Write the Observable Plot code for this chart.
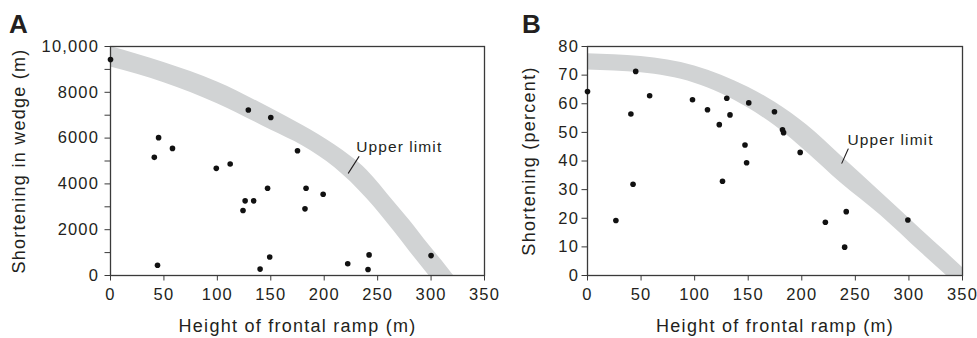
<!DOCTYPE html>
<html><head><meta charset="utf-8">
<script src="https://cdn.jsdelivr.net/npm/d3@7"></script>
<script src="https://cdn.jsdelivr.net/npm/@observablehq/plot@0.6"></script>
<style>
body{margin:0;background:#fff;}
#wrap{position:relative;width:977px;height:338px;overflow:hidden;font-family:"Liberation Sans",Arial,sans-serif;color:#231f20;}
.panel{position:absolute;top:0;}
.panel svg{overflow:visible;}
.panel svg text{letter-spacing:0.07em;}
.letter{position:absolute;font-weight:bold;font-size:26px;line-height:1;letter-spacing:0;}
</style></head><body>
<div id="wrap">
<div id="a" class="panel" style="left:0"></div>
<div id="b" class="panel" style="left:490px"></div>
<div class="letter" style="left:9px;top:11px">A</div>
<div class="letter" style="left:522px;top:11px">B</div>
</div>
<script>
// ---- shared x axis ----
const xTicks = [0, 50, 100, 150, 200, 250, 300, 350];
const xLabel = "Height of frontal ramp (m)";

// ---- Panel A: shortening in wedge (m) ----
const heightA = [0, 129, 150, 45, 41, 58, 175, 99, 112, 147, 183, 199, 126, 134, 124, 182, 44, 140, 149, 222, 242, 241, 300];
const shortA  = [9430, 7230, 6900, 6020, 5160, 5550, 5450, 4680, 4870, 3810, 3810, 3550, 3260, 3260, 2840, 2910, 450, 280, 810, 510, 900, 260, 870];
const bandXA     = [0, 50, 100, 150, 180, 210, 240, 265, 280, 298, 310, 321, 335];
const bandUpperA = [10000, 9300, 8450, 7300, 6550, 5700, 4600, 3230, 2400, 1330, 650, 0, -800];
const bandLowerA = [9100, 8420, 7500, 6350, 5650, 4700, 3350, 1950, 1050, 0, -700, -1350, -2150];
const yTicksA = [0, 1000, 2000, 3000, 4000, 5000, 6000, 7000, 8000, 9000, 10000];
const yTickLabelsA = ["0", "", "2000", "", "4000", "", "6000", "", "8000", "", "10,000"];
const yLabelA = "Shortening in wedge (m)";
const leaderXA = [222.6, 232.5];
const leaderYA = [4470, 5190];
const noteA = {x: 230, y: 5626, text: "Upper limit"};

// ---- Panel B: shortening (percent) ----
const heightB = [0, 45, 40.5, 58, 98, 112, 130, 133, 123, 150.5, 174.5, 182, 183, 198.5, 147, 148.5, 42.5, 26.5, 126, 222, 241.5, 240, 299];
const shortB  = [64.3, 71.3, 56.4, 62.8, 61.4, 57.9, 61.9, 56.1, 52.7, 60.3, 57.2, 50.9, 49.9, 43.0, 45.6, 39.4, 31.9, 19.2, 32.9, 18.6, 22.3, 9.9, 19.4];
const bandXB     = [0, 50, 100, 125, 150, 175, 205, 236, 274, 311, 335, 350, 370];
const bandUpperB = [77.5, 76.5, 73.2, 70, 65.8, 60.5, 52.5, 42, 29, 16.2, 8, 2.8, -4];
const bandLowerB = [71.8, 70.8, 67.2, 63.5, 58.5, 52.3, 43, 32.5, 20.9, 8.1, 0, -5, -12];
const yTicksB = [0, 10, 20, 30, 40, 50, 60, 70, 80];
const yTickLabelsB = ["0", "10", "20", "30", "40", "50", "60", "70", "80"];
const yLabelB = "Shortening (percent)";
const leaderXB = [237.4, 243.3];
const leaderYB = [39.25, 44.2];
const noteB = {x: 242.7, y: 47.3, text: "Upper limit"};

const INK = "#231f20", AXIS = "#3a3a3a", BAND = "#d1d3d4";

function panel(o) {
  const pts = o.hx.map((h, i) => ({h, s: o.sy[i]}));
  const band = o.bx.map((x, i) => ({x, lo: o.bl[i], hi: o.bu[i]}));
  const leader = o.lx.map((x, i) => ({x, y: o.ly[i]}));
  return Plot.plot({
    width: o.width, height: 338,
    marginLeft: o.marginLeft, marginRight: o.marginRight, marginTop: 46, marginBottom: 63,
    style: {background: "transparent", fontFamily: "'Liberation Sans', Arial, sans-serif", fontSize: "16.5px", color: INK, overflow: "visible"},
    x: {domain: [0, 350]},
    y: {domain: o.yDomain},
    marks: [
      Plot.areaY(band, {x: "x", y1: "lo", y2: "hi", fill: BAND, curve: "monotone-x", clip: true}),
      Plot.frame({stroke: AXIS, strokeWidth: 1.3}),
      Plot.axisX({ticks: xTicks, tickSize: 5.5, tickPadding: 7.5, stroke: AXIS, fill: INK, label: null, fontSize: 16.5}),
      Plot.axisY({ticks: o.yTicks, tickFormat: d => o.yLabels[o.yTicks.indexOf(d)], tickSize: 5.5, tickPadding: o.tickPadY, stroke: AXIS, fill: INK, label: null, fontSize: 16.5}),
      Plot.text([xLabel], {frameAnchor: "bottom", dy: 44, textAnchor: "middle", lineAnchor: "top", text: d => d, fontSize: 18, fill: INK}),
      Plot.text([o.yLabel], {frameAnchor: "left", rotate: -90, dx: -o.yLabelOffset, textAnchor: "middle", lineAnchor: "top", text: d => d, fontSize: 18, fill: INK}),
      Plot.line(leader, {x: "x", y: "y", stroke: INK, strokeWidth: 1.1}),
      Plot.text([o.note], {x: "x", y: "y", text: "text", textAnchor: "start", lineAnchor: "middle", fontSize: 15.5, fill: INK}),
      Plot.dot(pts, {x: "h", y: "s", r: 2.8, fill: "#111", stroke: "none"})
    ]
  });
}

document.getElementById("a").append(panel({
  hx: heightA, sy: shortA, bx: bandXA, bu: bandUpperA, bl: bandLowerA,
  yDomain: [0, 10000], yTicks: yTicksA, yLabels: yTickLabelsA, yLabel: yLabelA, yLabelOffset: 98,
  lx: leaderXA, ly: leaderYA, note: noteA, width: 500, marginLeft: 110, marginRight: 16, tickPadY: 6
}));
document.getElementById("b").append(panel({
  hx: heightB, sy: shortB, bx: bandXB, bu: bandUpperB, bl: bandLowerB,
  yDomain: [0, 80], yTicks: yTicksB, yLabels: yTickLabelsB, yLabel: yLabelB, yLabelOffset: 65,
  lx: leaderXB, ly: leaderYB, note: noteB, width: 487, marginLeft: 97, marginRight: 15, tickPadY: 3
}));
</script>
</body></html>
